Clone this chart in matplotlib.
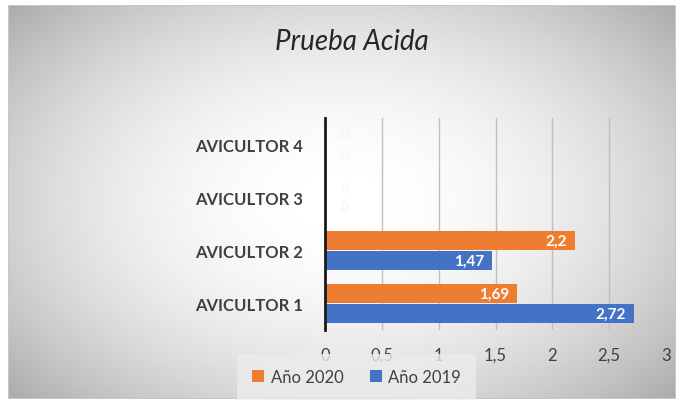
import numpy as np
import matplotlib.pyplot as plt

categories = ['AVICULTOR 1', 'AVICULTOR 2', 'AVICULTOR 3', 'AVICULTOR 4']
anio_2020 = [1.69, 2.2, 0, 0]
anio_2019 = [2.72, 1.47, 0, 0]
labels_2020 = ['1,69', '2,2', '0', '0']
labels_2019 = ['2,72', '1,47', '0', '0']
xticks = [0, 0.5, 1, 1.5, 2, 2.5, 3]
xtick_labels = ['0', '0,5', '1', '1,5', '2', '2,5', '3']

orange = '#ED7D31'
blue = '#4472C4'
text_col = '#404040'

fig = plt.figure(figsize=(6.76, 4.06), dpi=100)
fig.patch.set_facecolor('white')

# radial gradient background for chart area
bg = fig.add_axes([8 / 676, 6 / 406, 668 / 676, 394 / 406])
gx, gy = np.meshgrid(np.linspace(-1, 1, 300), np.linspace(-1, 1, 200))
r = np.sqrt((gx / 1.0) ** 2 + (gy / 1.1) ** 2)
shade = 1.0 - 0.18 * np.clip(r, 0, 1.4) ** 2
bg.imshow(shade, cmap='gray', vmin=0, vmax=1, aspect='auto', extent=[0, 1, 0, 1])
bg.set_xlim(0, 1)
bg.set_ylim(0, 1)
bg.axis('off')
bg.add_patch(plt.Rectangle((0, 0), 1, 1, fill=False, edgecolor='#c8c8c8', lw=1.5, transform=bg.transAxes))

ax = fig.add_axes([325 / 676, 1 - 331 / 406, 341 / 676, 212 / 406])
ax.patch.set_alpha(0)

y = np.arange(len(categories))
h = 0.35
b1 = ax.barh(y + h / 2 + 0.01, anio_2020, height=h, color=orange, label='Año 2020', zorder=3)
b2 = ax.barh(y - h / 2 - 0.01, anio_2019, height=h, color=blue, label='Año 2019', zorder=3)

for bars, labs in ((b1, labels_2020), (b2, labels_2019)):
    for bar, lab in zip(bars, labs):
        w = bar.get_width()
        yc = bar.get_y() + bar.get_height() / 2
        if w > 0:
            ax.annotate(lab, (w, yc), xytext=(-6, 0), textcoords='offset points',
                        ha='right', va='center', color='white', fontsize=11,
                        fontweight='bold', family='Lato', zorder=4)
        else:
            ax.annotate(lab, (0, yc), xytext=(11, 0), textcoords='offset points',
                        ha='left', va='center', color='#f7f7f0', fontsize=10,
                        fontweight='bold', family='Lato', zorder=4)

ax.set_xlim(0, 3)
ax.set_ylim(-0.5, 3.5)
ax.set_xticks(xticks)
ax.set_xticklabels(xtick_labels, fontsize=12, color=text_col, family='Lato')
ax.set_yticks(y)
ax.set_yticklabels(categories, fontsize=12, color=text_col, family='Lato', fontweight='bold')
ax.tick_params(axis='both', length=0)
ax.tick_params(axis='x', pad=12)
ax.tick_params(axis='y', pad=16)
ax.grid(axis='x', color='#bfbfbf', lw=1, zorder=0)
for s in ('top', 'right', 'bottom'):
    ax.spines[s].set_visible(False)
ax.spines['left'].set_color('#1a1a1a')
ax.spines['left'].set_linewidth(2)
ax.spines['left'].set_zorder(5)

fig.text(352 / 676, 1 - 42 / 406, 'Prueba Acida', ha='center', va='center',
         fontsize=20, style='italic', color='#262626', family='Lato')

leg = fig.legend(handles=[b1, b2], loc='center left', bbox_to_anchor=(234 / 676, 1 - 378 / 406),
                 ncol=2, frameon=True, handlelength=0.7, handleheight=0.7,
                 handletextpad=0.4, columnspacing=1.6, borderpad=0.6,
                 prop={'family': 'Lato', 'size': 12})
leg.get_frame().set_facecolor('#ececec')
leg.get_frame().set_edgecolor('none')
leg.get_frame().set_alpha(0.8)
leg.get_frame().set_boxstyle('square')
for t in leg.get_texts():
    t.set_color(text_col)

fig.savefig('out.png', dpi=100)
